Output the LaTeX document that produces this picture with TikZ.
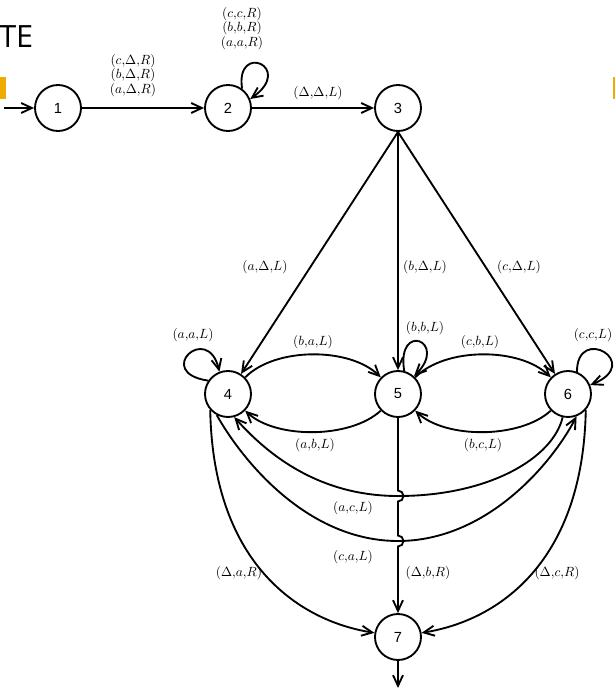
\documentclass[tikz,border=0pt]{standalone}
\usepackage{fontspec}
\newfontfamily\digitfont{Liberation Sans}
\newfontfamily\titlefont{Open Sans}
\usetikzlibrary{arrows.meta}
\definecolor{orng}{RGB}{240,170,0}
\begin{document}
\begin{tikzpicture}[x=0.75pt,y=0.75pt,
  st/.style={draw, circle, line width=1.4pt, minimum size=34.5pt, inner sep=0pt, font=\digitfont\fontsize{11}{13}\selectfont},
  arr/.style={line width=1.4pt, -{Straight Barb[length=8pt,width=7.5pt,line width=1.4pt]}},
  lbl/.style={font=\fontsize{10}{11}\selectfont, inner sep=0pt, align=center}]
\useasboundingbox (0,0) rectangle (615,-690);
% slide remnants
\node[anchor=base west, inner sep=0pt, font=\titlefont\fontsize{23}{26}\selectfont] (title) at (-1,-47) {TE};
\fill[orng] (0,-77) rectangle (6,-99);
\fill[orng] (613,-77) rectangle (615,-99);
% states
\node[st] (n1) at (58,-108) {1};
\node[st] (n2) at (228,-108) {2};
\node[st] (n3) at (398,-108) {3};
\node[st] (n4) at (228,-394) {4};
\node[st] (n5) at (398,-394) {5};
\node[st] (n6) at (568,-394) {6};
\node[st] (n7) at (398,-637) {7};
\coordinate (s0) at (4,-108);
\coordinate (e7) at (398,-688);
% start / exit
\draw[arr] (s0) -- (n1);
\draw[arr] (n7) -- (e7);
% 1 -> 2
\draw[arr] (n1) -- (n2);
\node[lbl, anchor=south] (l12) at (133,-97) {$(c{,}\Delta{,}R)$\\$(b{,}\Delta{,}R)$\\$(a{,}\Delta{,}R)$};
% loop 2
\draw[arr] (n2.54) .. controls +(-7,47) and +(45,32) .. (n2.22);
\node[lbl, anchor=south] (l22) at (242,-50) {$(c{,}c{,}R)$\\$(b{,}b{,}R)$\\$(a{,}a{,}R)$};
% 2 -> 3
\draw[arr] (n2) -- (n3);
\node[lbl] (l23) at (318,-93) {$(\Delta{,}\Delta{,}L)$};
% 3 -> 4,5,6
\draw[arr] (n3.south) -- (n4);
\draw[arr] (n3.south) -- (n5);
\draw[arr] (n3.south) -- (n6);
\node[lbl] (l34) at (265,-267) {$(a{,}\Delta{,}L)$};
\node[lbl] (l35) at (425,-267) {$(b{,}\Delta{,}L)$};
\node[lbl] (l36) at (519,-267) {$(c{,}\Delta{,}L)$};
% loops 4,5,6
\draw[arr] (n4.146) .. controls +(-55,8) and +(-12,50) .. (n4.111);
\node[lbl] (l44) at (193,-335) {$(a{,}a{,}L)$};
\draw[arr] (n5.75) .. controls +(-8,50) and +(35,35) .. (n5.48);
\node[lbl] (l55) at (425,-328) {$(b{,}b{,}L)$};
\draw[arr] (n6.68) .. controls +(0,48) and +(54,22) .. (n6.22);
\node[lbl] (l66) at (593,-335) {$(c{,}c{,}L)$};
% 4 <-> 5, 5 <-> 6
\draw[arr] (n4.44) .. controls (275,-347) and (350,-347) .. (n5.136);
\node[lbl] (l45) at (313,-342) {$(b{,}a{,}L)$};
\draw[arr] (n5.-136) .. controls (350,-439) and (275,-439) .. (n4.-44);
\node[lbl] (l54) at (315,-445) {$(a{,}b{,}L)$};
\draw[arr] (n5.44) .. controls (445,-347) and (520,-347) .. (n6.136);
\node[lbl] (l56) at (480,-342) {$(c{,}b{,}L)$};
\draw[arr] (n6.-136) .. controls (520,-439) and (445,-439) .. (n5.-44);
\node[lbl] (l65) at (483,-445) {$(b{,}c{,}L)$};
% 6 -> 4 and 4 -> 6
\draw[arr] (n6.-103) .. controls (553,-458) and (489,-496) .. (398,-496) .. controls (313,-496) and (262,-448) .. (n4.-75);
\node[lbl] (l64) at (353,-508) {$(a{,}c{,}L)$};
\draw[arr] (n4.-118) .. controls (245,-465) and (310,-541) .. (398,-541) .. controls (486,-541) and (551,-465) .. (n6.-69);
\node[lbl] (l46) at (353,-557) {$(c{,}a{,}L)$};
% 5 -> 7 with jumps
\draw[arr] (n5) -- (398,-490.5) arc[start angle=90,end angle=-90,radius=5.5] -- (398,-535.5) arc[start angle=90,end angle=-90,radius=5.5] -- (n7);
\node[lbl] (l57) at (428,-573) {$(\Delta{,}b{,}R)$};
% 4 -> 7, 6 -> 7
\draw[arr] (n4.-138) .. controls (213,-560) and (295,-620) .. (n7.170);
\node[lbl] (l47) at (239,-573) {$(\Delta{,}a{,}R)$};
\draw[arr] (n6.-42) .. controls (583,-560) and (501,-620) .. (n7.10);
\node[lbl] (l67) at (557,-573) {$(\Delta{,}c{,}R)$};
\end{tikzpicture}
\end{document}
